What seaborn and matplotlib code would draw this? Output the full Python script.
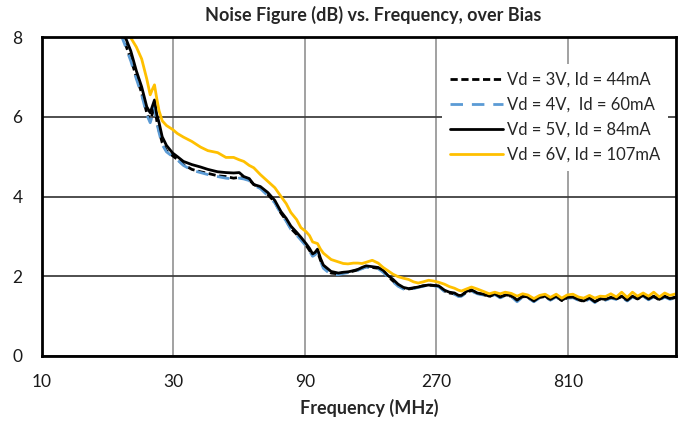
import matplotlib
matplotlib.use("Agg")
import matplotlib.pyplot as plt
import matplotlib.ticker as mticker
import seaborn as sns

sns.set_style("white")
plt.rcParams["font.family"] = ["Lato", "DejaVu Sans"]

# frequency points (MHz)
freq = [
    18, 19, 20, 21, 22, 23, 24, 24.7, 25.2, 25.6,
    26.1, 26.6, 27.3, 28.3, 29.8, 31, 32.6, 35, 37.6, 40,
    43.4, 46.5, 49.6, 52, 54, 56.5, 58.7, 62, 66, 70,
    73.7, 77, 80, 84, 87, 90.8, 93.5, 96, 98, 100,
    102.5, 105, 112, 119, 124, 129, 135, 140, 145, 150,
    158, 166, 173, 180, 188, 196, 205, 214, 223, 232,
    242, 253, 264, 275, 289, 301, 314, 325, 333, 347,
    362, 380, 400, 420, 440, 460, 480, 505, 530, 555,
    580, 610, 640, 670, 700, 735, 770, 805, 845, 885,
    925, 970, 1015, 1060, 1110, 1160, 1215, 1270, 1330, 1390,
    1450, 1520, 1590, 1660, 1740, 1820, 1900, 2000,
]

nf_3v = [
    8.60, 8.25, 7.85, 7.45, 7.00, 6.60, 6.10, 5.90, 6.10, 6.30,
    5.90, 5.65, 5.35, 5.15, 5.02, 4.93, 4.80, 4.68, 4.62, 4.58,
    4.52, 4.50, 4.46, 4.48, 4.46, 4.42, 4.30, 4.22, 4.05, 3.86,
    3.58, 3.40, 3.20, 3.05, 2.93, 2.78, 2.65, 2.52, 2.56, 2.62,
    2.40, 2.24, 2.08, 2.06, 2.09, 2.10, 2.13, 2.16, 2.20, 2.24,
    2.22, 2.20, 2.12, 2.00, 1.88, 1.77, 1.70, 1.68, 1.70, 1.73,
    1.76, 1.78, 1.77, 1.75, 1.63, 1.58, 1.56, 1.50, 1.51, 1.60,
    1.64, 1.57, 1.54, 1.49, 1.55, 1.47, 1.52, 1.50, 1.39, 1.49,
    1.47, 1.37, 1.47, 1.49, 1.41, 1.49, 1.39, 1.46, 1.47, 1.41,
    1.37, 1.45, 1.35, 1.43, 1.41, 1.46, 1.43, 1.49, 1.39, 1.49,
    1.43, 1.51, 1.42, 1.49, 1.41, 1.49, 1.43, 1.47,
]

nf_4v = [
    8.55, 8.20, 7.80, 7.40, 6.95, 6.55, 6.05, 5.85, 6.05, 6.25,
    5.85, 5.60, 5.30, 5.12, 5.00, 4.92, 4.78, 4.66, 4.60, 4.55,
    4.50, 4.46, 4.44, 4.46, 4.44, 4.40, 4.28, 4.20, 4.02, 3.84,
    3.56, 3.38, 3.18, 3.03, 2.91, 2.76, 2.63, 2.50, 2.54, 2.60,
    2.38, 2.20, 2.04, 2.04, 2.07, 2.09, 2.12, 2.15, 2.19, 2.23,
    2.21, 2.19, 2.10, 1.98, 1.86, 1.75, 1.68, 1.67, 1.69, 1.72,
    1.75, 1.77, 1.76, 1.74, 1.62, 1.57, 1.55, 1.49, 1.50, 1.59,
    1.63, 1.56, 1.53, 1.48, 1.54, 1.46, 1.51, 1.49, 1.36, 1.48,
    1.46, 1.36, 1.46, 1.48, 1.40, 1.48, 1.38, 1.45, 1.46, 1.40,
    1.34, 1.44, 1.34, 1.42, 1.40, 1.45, 1.42, 1.48, 1.38, 1.48,
    1.42, 1.50, 1.41, 1.48, 1.40, 1.48, 1.42, 1.46,
]

nf_5v = [
    8.90, 8.45, 8.02, 7.65, 7.15, 6.75, 6.25, 6.10, 6.28, 6.42,
    6.05, 5.85, 5.50, 5.28, 5.09, 5.00, 4.88, 4.80, 4.74, 4.68,
    4.62, 4.60, 4.59, 4.60, 4.50, 4.45, 4.30, 4.25, 4.10, 3.90,
    3.62, 3.45, 3.26, 3.10, 2.98, 2.82, 2.70, 2.56, 2.60, 2.68,
    2.45, 2.28, 2.12, 2.08, 2.10, 2.11, 2.14, 2.17, 2.22, 2.26,
    2.24, 2.22, 2.15, 2.02, 1.92, 1.80, 1.72, 1.69, 1.71, 1.73,
    1.76, 1.78, 1.77, 1.76, 1.65, 1.60, 1.58, 1.52, 1.52, 1.62,
    1.66, 1.58, 1.55, 1.50, 1.56, 1.48, 1.53, 1.52, 1.40, 1.50,
    1.48, 1.38, 1.48, 1.50, 1.42, 1.50, 1.40, 1.47, 1.48, 1.42,
    1.38, 1.46, 1.36, 1.44, 1.42, 1.47, 1.44, 1.50, 1.40, 1.50,
    1.44, 1.52, 1.43, 1.50, 1.42, 1.50, 1.44, 1.48,
]

nf_6v = [
    9.60, 9.10, 8.35, 7.98, 7.75, 7.45, 6.95, 6.55, 6.70, 6.80,
    6.45, 6.15, 5.90, 5.78, 5.68, 5.58, 5.49, 5.38, 5.24, 5.15,
    5.10, 4.98, 4.98, 4.92, 4.88, 4.78, 4.72, 4.55, 4.38, 4.22,
    4.00, 3.82, 3.60, 3.42, 3.22, 3.12, 3.02, 2.86, 2.84, 2.82,
    2.68, 2.58, 2.42, 2.36, 2.32, 2.31, 2.33, 2.33, 2.32, 2.35,
    2.40, 2.33, 2.22, 2.14, 2.05, 1.99, 1.95, 1.92, 1.86, 1.83,
    1.86, 1.90, 1.88, 1.85, 1.80, 1.74, 1.70, 1.65, 1.63, 1.68,
    1.73, 1.68, 1.62, 1.56, 1.60, 1.56, 1.60, 1.57, 1.50, 1.56,
    1.53, 1.44, 1.52, 1.55, 1.47, 1.55, 1.45, 1.53, 1.55, 1.48,
    1.45, 1.52, 1.45, 1.50, 1.49, 1.56, 1.48, 1.60, 1.47, 1.60,
    1.50, 1.58, 1.50, 1.60, 1.48, 1.58, 1.52, 1.56,
]

labels = [
    "Vd = 3V, Id = 44mA",
    "Vd = 4V,  Id = 60mA",
    "Vd = 5V, Id = 84mA",
    "Vd = 6V, Id = 107mA",
]
xticks = [10, 30, 90, 270, 810]
xtick_labels = ["10", "30", "90", "270", "810"]

series = [
    (nf_3v, "black", (0, (2.6, 1.3))),
    (nf_4v, "#5B9BD5", (0, (4.5, 3.2))),
    (nf_5v, "black", "-"),
    (nf_6v, "#FFC000", "-"),
]

fig = plt.figure(figsize=(6.82, 4.21), dpi=100)
ax = fig.add_axes([42 / 682, 1 - 356 / 421, 634 / 682, 319 / 421])

for (vals, color, ls), label in zip(series, labels):
    sns.lineplot(
        x=freq, y=vals, color=color, linestyle=ls, linewidth=2.0,
        label=label, sort=False, estimator=None, ax=ax,
    )

ax.set_xscale("log")
ax.set_xlim(10, 2000)
ax.set_ylim(0, 8)
ax.xaxis.set_major_locator(mticker.FixedLocator(xticks))
ax.xaxis.set_minor_locator(mticker.NullLocator())
ax.set_xticklabels(xtick_labels)
ax.set_yticks([0, 2, 4, 6, 8])
ax.set_xlabel("")
ax.set_ylabel("")

ax.set_axisbelow(True)
ax.yaxis.grid(True, color="#404040", linewidth=1.3)
ax.xaxis.grid(True, color="#9a9a9a", linewidth=1.3)
ax.tick_params(axis="both", length=0, labelsize=12.5, colors="#1a1a1a")
ax.tick_params(axis="x", pad=13)
ax.tick_params(axis="y", pad=14)
for spine in ax.spines.values():
    spine.set_visible(True)
    spine.set_color("black")
    spine.set_linewidth(2.0)

ax.legend(
    loc="upper left",
    bbox_to_anchor=((442 - 42) / 634, (356 - 64) / 319),
    frameon=True, facecolor="white", edgecolor="none", framealpha=1,
    fancybox=False, fontsize=12, handlelength=3.2, handletextpad=0.25,
    labelspacing=0.55, borderpad=0.45, borderaxespad=0,
)

fig.text(373 / 682, 1 - 15 / 421, "Noise Figure (dB) vs. Frequency, over Bias",
         ha="center", va="center", fontsize=13, fontweight="bold")
fig.text(369 / 682, 1 - 408 / 421, "Frequency (MHz)",
         ha="center", va="center", fontsize=13, fontweight="bold")

fig.savefig("out.png", dpi=100)
